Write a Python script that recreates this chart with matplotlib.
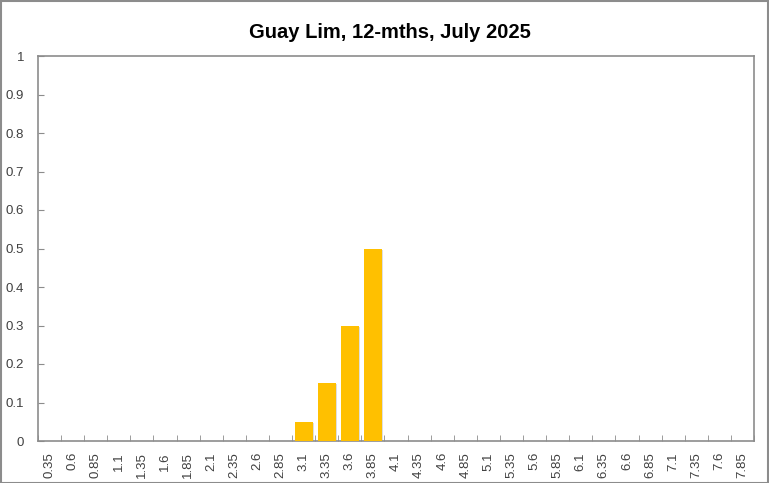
import matplotlib.pyplot as plt
import numpy as np
from matplotlib.patches import Rectangle

# category labels (bin centres) and share in each bin
bins = ['0.35', '0.6', '0.85', '1.1', '1.35', '1.6', '1.85', '2.1', '2.35', '2.6',
        '2.85', '3.1', '3.35', '3.6', '3.85', '4.1', '4.35', '4.6', '4.85', '5.1',
        '5.35', '5.6', '5.85', '6.1', '6.35', '6.6', '6.85', '7.1', '7.35', '7.6', '7.85']
share = [0, 0, 0, 0, 0, 0, 0, 0, 0, 0,
         0, 0.05, 0.15, 0.3, 0.5, 0, 0, 0, 0, 0,
         0, 0, 0, 0, 0, 0, 0, 0, 0, 0, 0]
title = 'Guay Lim, 12-mths, July 2025'

plt.rcParams['font.family'] = ['Liberation Sans', 'DejaVu Sans']
grey = '#8c8c8c'
bar_col = '#ffc000'
lab_col = '#404040'

fig = plt.figure(figsize=(7.69, 4.83), dpi=100)
fig.patches.append(Rectangle((0.5 / 769, 0.5 / 483), 767.5 / 769, 481.5 / 483,
                             transform=fig.transFigure, fill=False,
                             edgecolor=grey, linewidth=1.5))

ax = fig.add_axes([38 / 769, 42 / 483, 716 / 769, 385 / 483])
x = np.arange(len(bins))
vals = np.array(share)
nz = vals > 0

# soft shadow behind bars
ax.bar(x[nz] + 0.06, vals[nz], width=0.79, bottom=-0.003, color='#c8c8c8',
       alpha=0.6, zorder=2)
ax.bar(x, vals, width=0.77, color=bar_col, zorder=3)

ax.set_xlim(-0.5, len(bins) - 0.5)
ax.set_ylim(0, 1)
ax.set_yticks(np.arange(0, 1.01, 0.1))
ax.set_yticklabels(['0', '0.1', '0.2', '0.3', '0.4', '0.5', '0.6', '0.7', '0.8', '0.9', '1'])
ax.set_xticks(x)
ax.set_xticklabels(bins, rotation=90)
ax.set_xticks(np.arange(-0.5, len(bins)), minor=True)

ax.tick_params(axis='x', which='major', length=0, pad=8, labelsize=9.5, labelcolor=lab_col)
ax.tick_params(axis='x', which='minor', length=4, color=grey, direction='in')
ax.tick_params(axis='y', length=4, color=grey, direction='in', labelsize=9.5,
               labelcolor=lab_col, pad=10)
for s in ax.spines.values():
    s.set_color(grey)
    s.set_linewidth(1.2)

fig.text(390 / 769, 1 - 32 / 483, title, ha='center', va='center',
         fontsize=14.5, fontweight='bold', color='black')

fig.savefig('out.png', dpi=100)
